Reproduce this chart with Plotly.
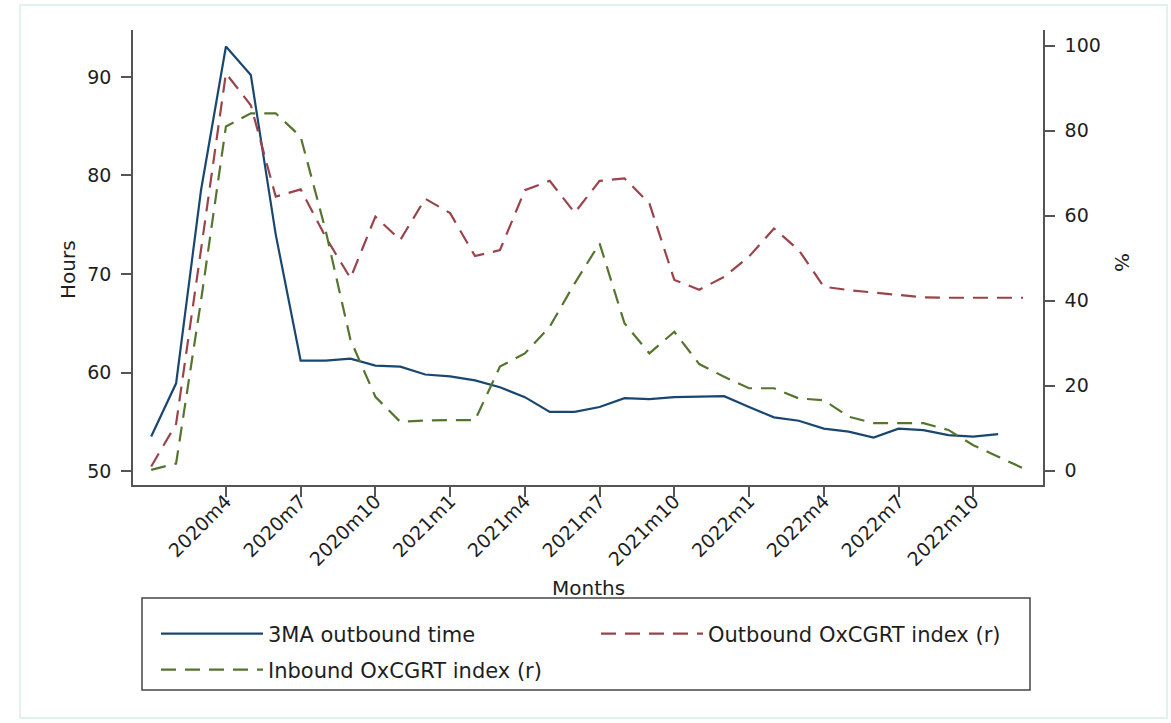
import plotly.graph_objects as go

# Monthly axis, 2020m1 .. 2022m12
months = [f"{y}m{m}" for y in (2020, 2021, 2022) for m in range(1, 13)]
tick_months = [f"{y}m{m}" for y in (2020, 2021, 2022) for m in (1, 4, 7, 10)][1:]

# 3-month moving average of outbound time (hours), 2020m1 .. 2022m11
outbound_time_3ma = [53.5, 58.9, 78.5, 93.1, 90.2, 74.0, 61.2, 61.2, 61.4, 60.7,
                     60.6, 59.8, 59.6, 59.2, 58.5, 57.5, 56.0, 56.0, 56.5, 57.4,
                     57.3, 57.5, 57.55, 57.6, 56.5, 55.45, 55.1, 54.3, 54.0, 53.4,
                     54.3, 54.15, 53.65, 53.5, 53.75]

# Outbound OxCGRT index (%), 2020m1 .. 2022m12
outbound_oxcgrt = [1.0, 11.0, 52.0, 93.5, 86.0, 64.5, 66.2, 55.0, 45.3, 59.8,
                   54.3, 64.0, 60.6, 50.5, 51.9, 66.0, 68.2, 60.7, 68.2, 68.8,
                   62.9, 44.9, 42.6, 45.6, 50.4, 57.0, 51.9, 43.3, 42.5, 41.9,
                   41.3, 40.8, 40.7, 40.7, 40.7, 40.7]

# Inbound OxCGRT index (%), 2020m1 .. 2022m12
inbound_oxcgrt = [0.2, 1.7, 40.0, 81.0, 84.1, 84.1, 78.6, 56.6, 30.8, 17.4,
                  11.5, 11.8, 11.9, 11.9, 24.5, 27.6, 33.9, 44.1, 53.5, 34.7,
                  27.6, 32.7, 25.1, 22.1, 19.4, 19.4, 17.0, 16.6, 12.7, 11.2,
                  11.2, 11.2, 9.6, 6.0, 3.3, 0.6]

hours_ticks = [50, 60, 70, 80, 90]
pct_ticks = [0, 20, 40, 60, 80, 100]

NAVY = "#1a476f"
MAROON = "#9a434a"
FOREST = "#55752f"
FONT = "DejaVu Sans"
TXT = "#1e1e1e"
AXC = "#555555"

# Plot-area geometry in pixels (used to place page furniture in paper units)
W, H = 1171, 723
L, R, T, B = 133, 1043, 30, 485
PW, PH = R - L, B - T


def px(x):
    return (x - L) / PW


def py(y):
    return (B - y) / PH


fig = go.Figure()

fig.add_trace(go.Scatter(
    x=months[:len(outbound_time_3ma)], y=outbound_time_3ma,
    name="3MA outbound time", mode="lines",
    line=dict(color=NAVY, width=2.2), legend="legend"))
fig.add_trace(go.Scatter(
    x=months, y=outbound_oxcgrt, yaxis="y2",
    name="Outbound OxCGRT index (r)", mode="lines",
    line=dict(color=MAROON, width=2.2, dash="15px,9px"), legend="legend2"))
fig.add_trace(go.Scatter(
    x=months, y=inbound_oxcgrt, yaxis="y2",
    name="Inbound OxCGRT index (r)", mode="lines",
    line=dict(color=FOREST, width=2.2, dash="15px,9px"), legend="legend3"))

axis_common = dict(
    showgrid=False, zeroline=False, showline=True, linecolor=AXC, linewidth=1.5,
    ticks="outside", ticklen=10, tickwidth=1.5, tickcolor=AXC,
    tickfont=dict(family=FONT, size=19, color=TXT),
)

# one legend per key so the two-column Stata-style key can be laid out exactly
legend_common = dict(
    orientation="h", xanchor="left", yanchor="middle", itemwidth=102,
    font=dict(family=FONT, size=21, color=TXT), bgcolor="rgba(0,0,0,0)",
    borderwidth=0, itemclick=False, itemdoubleclick=False,
)

fig.update_layout(
    width=W, height=H,
    margin=dict(l=L, r=W - R, t=T, b=H - B, pad=0),
    paper_bgcolor="white", plot_bgcolor="white",
    font=dict(family=FONT, size=19, color=TXT),
    showlegend=True,
    xaxis=dict(
        **axis_common, type="category", categoryorder="array", categoryarray=months,
        range=[-0.73, 35.8], tickmode="array", tickvals=tick_months,
        ticktext=tick_months, tickangle=-45, ticklabelstandoff=-14,
    ),
    yaxis=dict(
        **axis_common, range=[48.58, 94.77], tickmode="array", tickvals=hours_ticks,
        ticklabelstandoff=6,
    ),
    yaxis2=dict(
        **axis_common, overlaying="y", side="right", anchor="x",
        range=[-3.36, 103.7], tickmode="array", tickvals=pct_ticks,
        ticklabelstandoff=6,
    ),
    legend=dict(**legend_common, x=px(156), y=py(634)),
    legend2=dict(**legend_common, x=px(596), y=py(634)),
    legend3=dict(**legend_common, x=px(156), y=py(670)),
    shapes=[
        # light outer frame of the graph region
        dict(type="rect", xref="paper", yref="paper",
             x0=px(20), x1=px(1167), y0=py(718), y1=py(5),
             line=dict(color="#e3f0f0", width=2), fillcolor="rgba(0,0,0,0)",
             layer="below"),
        # legend box
        dict(type="rect", xref="paper", yref="paper",
             x0=px(142), x1=px(1030), y0=py(690), y1=py(598),
             line=dict(color="#444444", width=1.5), fillcolor="rgba(0,0,0,0)"),
    ],
    annotations=[
        dict(text="Hours", xref="paper", yref="paper", x=px(68), y=py(270),
             xanchor="center", yanchor="middle",
             showarrow=False, textangle=-90, font=dict(family=FONT, size=20, color=TXT)),
        dict(text="%", xref="paper", yref="paper", x=px(1122), y=py(262),
             xanchor="center", yanchor="middle",
             showarrow=False, textangle=90, font=dict(family=FONT, size=20, color=TXT)),
        dict(text="Months", xref="paper", yref="paper", x=px(588), y=py(588),
             xanchor="center", yanchor="middle",
             showarrow=False, font=dict(family=FONT, size=20, color=TXT)),
    ],
)

fig.write_html("out.html")
